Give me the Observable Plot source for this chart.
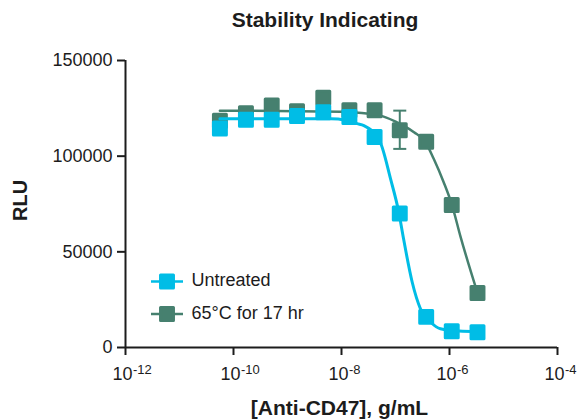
<!DOCTYPE html>
<html><head><meta charset="utf-8">
<script src="https://cdn.jsdelivr.net/npm/d3@7"></script>
<script src="https://cdn.jsdelivr.net/npm/@observablehq/plot@0.6"></script>
<style>
body{margin:0;background:#fff;font-family:"Liberation Sans",Arial,sans-serif;}
#title{width:582px;height:40px;box-sizing:border-box;padding-left:68px;text-align:center;font-weight:bold;font-size:21px;line-height:40px;color:#1c1c1c;}
svg text{font-family:"Liberation Sans",Arial,sans-serif;}
</style></head><body>
<div id="title">Stability Indicating</div>
<div id="chart"></div>
<script>
// ---- data ----
const concentrations = [5.6e-11, 1.7e-10, 5.1e-10, 1.5e-9, 4.6e-9, 1.4e-8, 4.1e-8, 1.2e-7, 3.7e-7, 1.1e-6, 3.3e-6];
const untreatedRLU = [114500, 119000, 119000, 121000, 123000, 120500, 110000, 70000, 16000, 8500, 8000];
const heatedRLU    = [118500, 122500, 126500, 123500, 130500, 124000, 124000, 113500, 107500, 74500, 28500];

// fitted curves
const untreatedFitX = [5.6e-11, 6.3e-9, 1.2e-8, 1.95e-8, 2.6e-8, 5.2e-8, 8.1e-8, 1.15e-7, 1.41e-7, 2.04e-7, 2.9e-7, 4.5e-7, 6.8e-7, 1.5e-6, 3.3e-6];
const untreatedFitY = [119500, 119500, 118800, 117000, 116000, 107300, 88100, 70700, 56800, 34100, 20200, 13200, 9800, 8600, 8300];
const heatedFitX = [5.6e-11, 1e-8, 5.2e-8, 1.07e-7, 1.41e-7, 2.2e-7, 3.6e-7, 5.1e-7, 7.8e-7, 1.12e-6, 1.58e-6, 3.3e-6];
const heatedFitY = [123800, 123200, 121200, 117700, 116000, 112500, 107300, 98600, 86400, 74200, 58500, 28500];

// error bar on the heated series
const errorX = [1.2e-7];
const errorLow = [103800];
const errorHigh = [123800];

const yTicks = [0, 50000, 100000, 150000];
const xTicks = [1e-12, 1e-10, 1e-8, 1e-6, 1e-4];
const xTickExponents = ["-12", "-10", "-8", "-6", "-4"];
const seriesNames = ["Untreated", "65°C for 17 hr"];

// ---- build tables ----
const untreatedPts = concentrations.map((c, i) => ({c, v: untreatedRLU[i]}));
const heatedPts = concentrations.map((c, i) => ({c, v: heatedRLU[i]}));
const untreatedFit = untreatedFitX.map((c, i) => ({c, v: untreatedFitY[i]}));
const heatedFit = heatedFitX.map((c, i) => ({c, v: heatedFitY[i]}));
const errBars = errorX.map((c, i) => ({c, lo: errorLow[i], hi: errorHigh[i]}));

const cyan = "#00bde6", teal = "#46806f", ink = "#1c1c1c";
const hLine = {draw(ctx) { ctx.moveTo(-16, 0); ctx.lineTo(16, 0); }};
const cap = {draw(ctx) { ctx.moveTo(-6.5, 0); ctx.lineTo(6.5, 0); }};
const sq = {r: 7.3, symbol: "square", strokeWidth: 3, strokeLinejoin: "round"};

const chart = Plot.plot({
  width: 582, height: 380,
  marginTop: 20, marginBottom: 73, marginLeft: 125, marginRight: 25,
  style: {background: "white", color: ink, fontFamily: "Liberation Sans, Arial, sans-serif"},
  x: {type: "log", domain: [1e-12, 1e-4]},
  y: {domain: [0, 150000]},
  marks: [
    Plot.ruleX([1e-12], {stroke: ink, strokeWidth: 2}),
    Plot.ruleY([0], {stroke: ink, strokeWidth: 2}),
    Plot.axisY({ticks: yTicks, tickSize: 8, tickPadding: 5, strokeWidth: 2, tickFormat: d => String(d), fontSize: 18, label: null}),
    Plot.axisX({ticks: xTicks, tickSize: 8, strokeWidth: 2, tickFormat: () => "", label: null}),
    Plot.text(xTicks, {x: d => d, text: () => "10", frameAnchor: "bottom", dy: 27, dx: -3, fontSize: 18, lineAnchor: "middle"}),
    Plot.text(xTicks, {x: d => d, text: (d, i) => xTickExponents[i], frameAnchor: "bottom", dy: 22, dx: 7.5, textAnchor: "start", fontSize: 13, lineAnchor: "middle"}),
    Plot.text(["RLU"], {frameAnchor: "left", dx: -105, dy: 17, rotate: -90, fontWeight: "bold", fontSize: 20}),
    Plot.text(["[Anti-CD47], g/mL"], {frameAnchor: "bottom", dy: 61, dx: -2, fontWeight: "bold", fontSize: 21, lineAnchor: "middle"}),

    // heated series
    Plot.line(heatedFit, {x: "c", y: "v", stroke: teal, strokeWidth: 2.5, curve: "monotone-x"}),
    Plot.ruleX(errBars, {x: "c", y1: "lo", y2: "hi", stroke: teal, strokeWidth: 2}),
    Plot.dot(errBars, {x: "c", y: "lo", symbol: cap, stroke: teal, strokeWidth: 2}),
    Plot.dot(errBars, {x: "c", y: "hi", symbol: cap, stroke: teal, strokeWidth: 2}),
    Plot.dot(heatedPts, {x: "c", y: "v", fill: teal, stroke: teal, ...sq}),

    // untreated series
    Plot.line(untreatedFit, {x: "c", y: "v", stroke: cyan, strokeWidth: 3, curve: "monotone-x"}),
    Plot.dot(untreatedPts, {x: "c", y: "v", fill: cyan, stroke: cyan, ...sq}),

    // legend
    Plot.dot([0], {frameAnchor: "bottom-left", dx: 41.5, dy: -66, symbol: hLine, stroke: cyan, strokeWidth: 2.5, fill: "none"}),
    Plot.dot([0], {frameAnchor: "bottom-left", dx: 41.5, dy: -66, fill: cyan, stroke: cyan, ...sq}),
    Plot.text([seriesNames[0]], {frameAnchor: "bottom-left", dx: 66, dy: -67, textAnchor: "start", fontSize: 18, lineAnchor: "middle"}),
    Plot.dot([0], {frameAnchor: "bottom-left", dx: 41.5, dy: -33.5, symbol: hLine, stroke: teal, strokeWidth: 2.5, fill: "none"}),
    Plot.dot([0], {frameAnchor: "bottom-left", dx: 41.5, dy: -33.5, fill: teal, stroke: teal, ...sq}),
    Plot.text([seriesNames[1]], {frameAnchor: "bottom-left", dx: 66, dy: -34, textAnchor: "start", fontSize: 18, lineAnchor: "middle"})
  ]
});
document.getElementById("chart").appendChild(chart);
</script>
</body></html>
